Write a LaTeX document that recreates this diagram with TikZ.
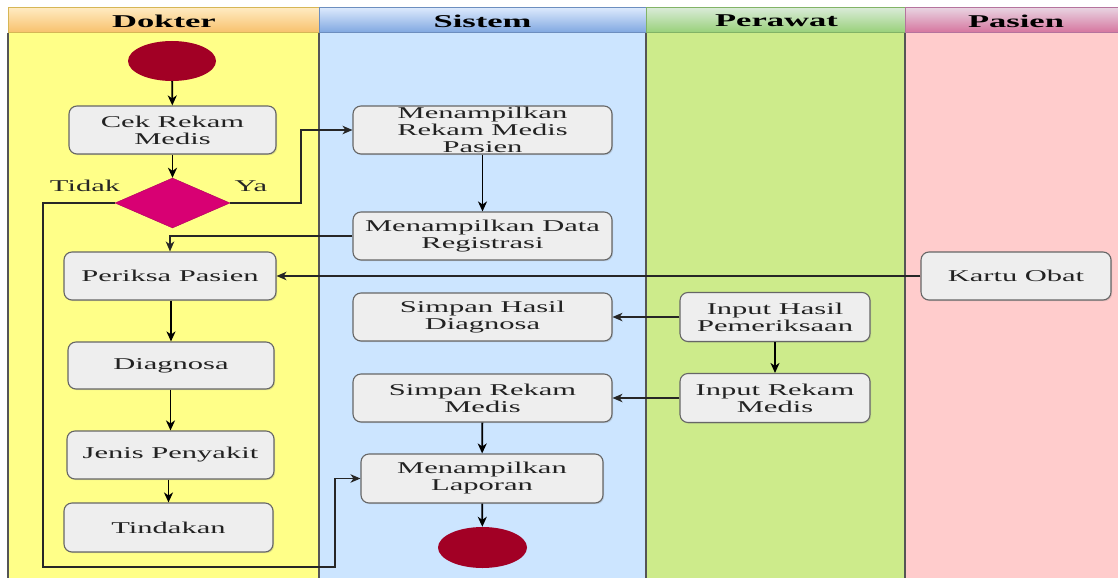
\documentclass[tikz,border=0pt]{standalone}
\usepackage{fontspec}
\setmainfont{Liberation Serif}
\newfontfamily\boxfont[FakeStretch=1.85]{Liberation Serif}
\newfontfamily\headfont[FakeStretch=1.92]{Liberation Serif}
\usetikzlibrary{shapes.geometric,arrows.meta,shadows}
\definecolor{dokbody}{HTML}{FFFF88}
\definecolor{sisbody}{HTML}{CCE5FF}
\definecolor{perbody}{HTML}{CDEB8B}
\definecolor{pasbody}{HTML}{FFCCCC}
\definecolor{dokhtop}{HTML}{FFEAC0}
\definecolor{dokhbot}{HTML}{F7C06A}
\definecolor{dokhline}{HTML}{D6B656}
\definecolor{sishtop}{HTML}{DAE8FC}
\definecolor{sishbot}{HTML}{7EA6E0}
\definecolor{sishline}{HTML}{6C8EBF}
\definecolor{perhtop}{HTML}{D8EAD6}
\definecolor{perhbot}{HTML}{97D077}
\definecolor{perhline}{HTML}{82B366}
\definecolor{pashtop}{HTML}{E8D2E0}
\definecolor{pashbot}{HTML}{D5739D}
\definecolor{pashline}{HTML}{B5739D}
\definecolor{lanesep}{HTML}{555555}
\definecolor{boxfill}{HTML}{EEEEEE}
\definecolor{boxline}{HTML}{666666}
\definecolor{boxtext}{HTML}{222222}
\definecolor{startred}{HTML}{A20025}
\definecolor{decpink}{HTML}{D80073}
\tikzset{
  headtext/.style={font=\headfont\fontsize{18}{18}\selectfont\bfseries, text=black, inner sep=0pt},
  actbox/.style={draw=boxline, fill=boxfill, rounded corners=8pt, line width=1.1pt,
    align=center, inner sep=0pt, text=boxtext,
    font=\boxfont\fontsize{16.5}{17}\selectfont,
    drop shadow={opacity=0.25, shadow xshift=1.2pt, shadow yshift=-1.2pt}},
  startdot/.style={ellipse, fill=startred, inner sep=0pt, minimum width=88pt, minimum height=40pt},
  decision/.style={diamond, fill=decpink, draw=decpink!80!black, line width=0.4pt, inner sep=0pt, minimum width=115pt, minimum height=50pt},
  lbl/.style={font=\boxfont\fontsize{16.5}{17}\selectfont, text=black!85, inner sep=0pt},
  arr/.style={draw=black, line width=1.8pt, -{Stealth[length=10pt,width=9pt,inset=3pt]}},
  thinarr/.style={draw=black!85, line width=1.1pt, -{Stealth[length=10pt,width=8.5pt,inset=3pt]}},
  lane/.style={draw=lanesep, line width=1.6pt},
}
\begin{document}
\begin{tikzpicture}[x=1pt,y=-1pt]
\useasboundingbox (0,0) rectangle (1118,578);
\fill[white] (0,0) rectangle (1118,578);
% lane bodies
\fill[dokbody] (8,33) rectangle (319,578);
\fill[sisbody] (319,33) rectangle (646,578);
\fill[perbody] (646,33) rectangle (905,578);
\fill[pasbody] (905,33) rectangle (1118,578);
% headers
\shade[top color=dokhtop, bottom color=dokhbot] (8,8) rectangle (319,33);
\draw[dokhline, line width=1pt] (8,8) rectangle (319,33);
\shade[top color=sishtop, bottom color=sishbot] (319,8) rectangle (646,33);
\draw[sishline, line width=1pt] (319,8) rectangle (646,33);
\shade[top color=perhtop, bottom color=perhbot] (646,8) rectangle (905,33);
\draw[perhline, line width=1pt] (646,8) rectangle (905,33);
\shade[top color=pashtop, bottom color=pashbot] (905,8) rectangle (1118,33);
\draw[pashline, line width=1pt] (905,8) rectangle (1118,33);
\node[headtext] (hdok) at (164,21) {Dokter};
\node[headtext] (hsis) at (482.5,21) {Sistem};
\node[headtext] (hper) at (776.5,21) {Perawat};
\node[headtext] (hpas) at (1016,21) {Pasien};
% lane separators
\draw[lane] (8,33) -- (8,578);
\draw[lane] (319,33) -- (319,578);
\draw[lane] (646,33) -- (646,578);
\draw[lane] (905,33) -- (905,578);

% nodes: Dokter
\node[startdot] (start) at (172,61) {};
\node[actbox, minimum width=207pt, minimum height=48pt] (cek) at (172.5,130) {Cek Rekam\\Medis};
\node[decision] (dec) at (172.5,203) {};
\node[lbl] (tidak) at (85,186) {Tidak};
\node[lbl] (ya) at (251,186) {Ya};
\node[actbox, minimum width=212pt, minimum height=48pt] (periksa) at (170,276) {Periksa Pasien};
\node[actbox, minimum width=206pt, minimum height=47pt] (diag) at (171,365.5) {Diagnosa};
\node[actbox, minimum width=207pt, minimum height=48pt] (jenis) at (170.5,455) {Jenis Penyakit};
\node[actbox, minimum width=209pt, minimum height=49pt] (tind) at (168.5,527.5) {Tindakan};
% Sistem
\node[actbox, minimum width=259pt, minimum height=48pt] (mrm) at (482.5,130) {Menampilkan\\Rekam Medis\\Pasien};
\node[actbox, minimum width=259pt, minimum height=48pt] (mdr) at (482.5,236) {Menampilkan Data\\Registrasi};
\node[actbox, minimum width=259pt, minimum height=48pt] (shd) at (482.5,317) {Simpan Hasil\\Diagnosa};
\node[actbox, minimum width=259pt, minimum height=48pt] (srm) at (482.5,398) {Simpan Rekam\\Medis};
\node[actbox, minimum width=242pt, minimum height=49pt] (lap) at (482,478.5) {Menampilkan\\Laporan};
\node[startdot, minimum width=89pt, minimum height=41pt] (end) at (482.5,547.5) {};
% Perawat
\node[actbox, minimum width=190pt, minimum height=49pt] (ihp) at (775,317) {Input Hasil\\Pemeriksaan};
\node[actbox, minimum width=190pt, minimum height=49pt] (irm) at (775,398) {Input Rekam\\Medis};
% Pasien
\node[actbox, minimum width=190pt, minimum height=48pt] (kartu) at (1016,276) {Kartu Obat};

% helper coordinates
\coordinate (yaup) at (301,203);
\coordinate (tl) at (43,203);
\coordinate (bl) at (43,567);
\coordinate (br) at (335,567);

% connectors
\draw[arr] (start) -- (cek);
\draw[arr] (cek) -- (dec);
\draw[thinarr] (dec.east) -- (yaup) |- (mrm.west);
\draw[thinarr] (dec.west) -- (tl) -- (bl) -- (br) |- (lap.west);
\draw[arr] (mrm) -- (mdr);
\draw[thinarr] (mdr.west) -| (periksa.north);
\draw[thinarr] (kartu.west) -- (periksa.east);
\draw[arr] (periksa.south -| diag.north) -- (diag.north);
\draw[arr] (diag.south -| jenis.north) -- (jenis.north);
\draw[arr] (jenis.south -| tind.north) -- (tind.north);
\draw[thinarr] (ihp.west) -- (shd.east);
\draw[arr] (ihp) -- (irm);
\draw[thinarr] (irm.west) -- (srm.east);
\draw[arr] (srm) -- (lap);
\draw[arr] (lap) -- (end);
\end{tikzpicture}
\end{document}
